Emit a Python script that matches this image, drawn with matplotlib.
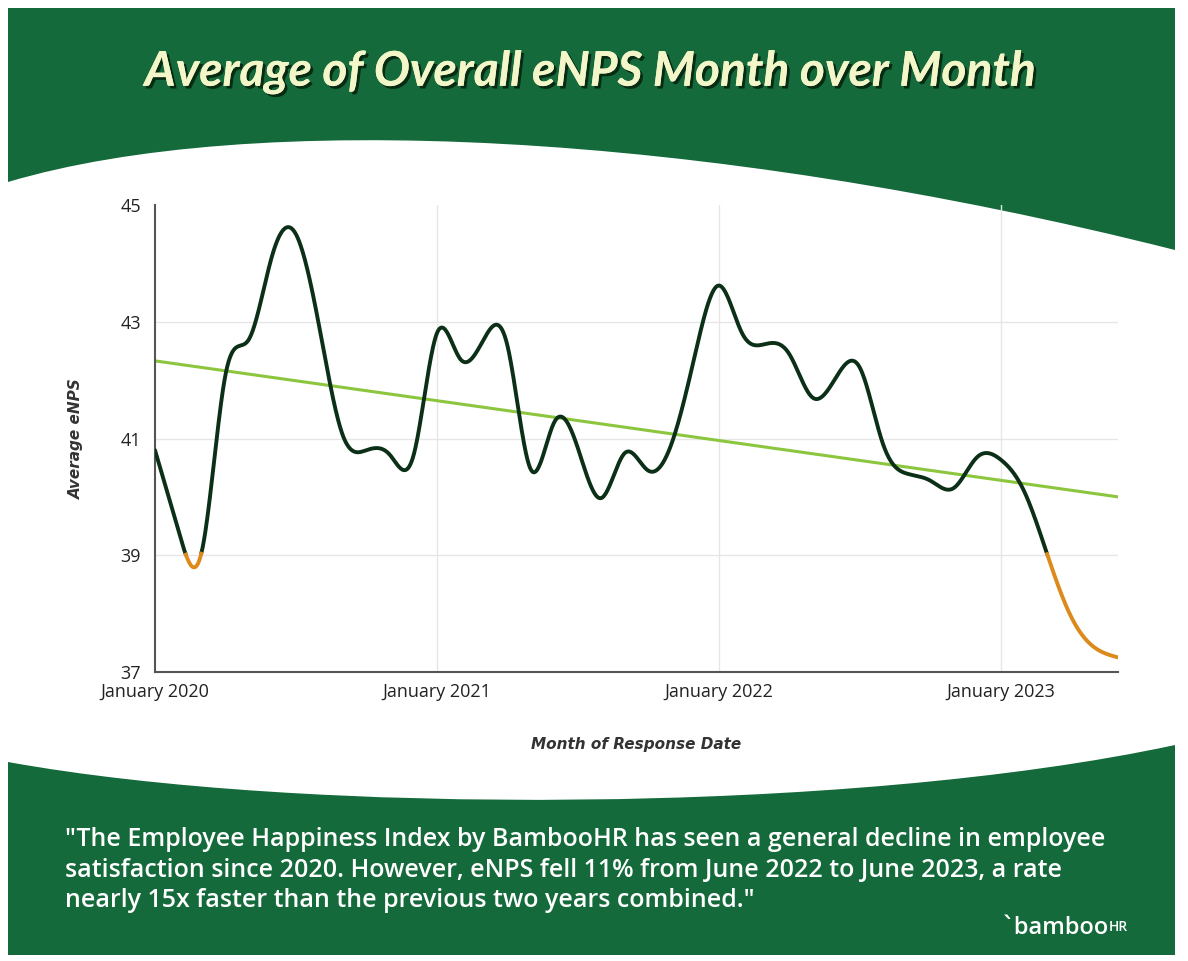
import numpy as np
import matplotlib
matplotlib.use("Agg")
import matplotlib.pyplot as plt
from matplotlib.path import Path
from matplotlib.patches import PathPatch
import matplotlib.patheffects as pe

# monthly average eNPS, Jan 2020 .. Jun 2023
months = np.arange(42)
enps = [40.8, 39.42, 39.08, 42.09, 42.7, 44.15, 44.5, 42.9, 41.05, 40.8,
        40.72, 40.7, 42.8, 42.36, 42.7, 42.6, 40.47, 41.28, 40.84, 39.98,
        40.75, 40.45, 40.92, 42.45, 43.62, 42.8, 42.62, 42.45, 41.7, 42.05,
        42.22, 40.9, 40.4, 40.28, 40.15, 40.68, 40.64, 40.1, 39.0, 37.95,
        37.42, 37.25]
trend_ends = [42.33, 40.0]
threshold = 39
x_ticks = [0, 12, 24, 36]
x_labels = ['January 2020', 'January 2021', 'January 2022', 'January 2023']
y_ticks = [37, 39, 41, 43, 45]

GREEN = '#146a3a'
DARK = '#0b2f17'
ORANGE = '#dd8a1c'
LIME = '#8cc63f'


def natural_spline(x, y, xs):
    x = np.asarray(x, float)
    y = np.asarray(y, float)
    n = len(x)
    h = np.diff(x)
    A = np.zeros((n, n))
    r = np.zeros(n)
    A[0, 0] = A[-1, -1] = 1
    for i in range(1, n - 1):
        A[i, i - 1] = h[i - 1]
        A[i, i] = 2 * (h[i - 1] + h[i])
        A[i, i + 1] = h[i]
        r[i] = 3 * ((y[i + 1] - y[i]) / h[i] - (y[i] - y[i - 1]) / h[i - 1])
    c = np.linalg.solve(A, r)
    b = (y[1:] - y[:-1]) / h - h * (2 * c[:-1] + c[1:]) / 3
    d = (c[1:] - c[:-1]) / (3 * h)
    idx = np.clip(np.searchsorted(x, xs) - 1, 0, n - 2)
    dx = xs - x[idx]
    return y[idx] + b[idx] * dx + c[idx] * dx ** 2 + d[idx] * dx ** 3


fig = plt.figure(figsize=(11.88, 9.61), dpi=100)

# background: green bands with white wave in the middle
bg = fig.add_axes([0, 0, 1, 1], zorder=0)
bg.set_xlim(0, 1188)
bg.set_ylim(961, 0)
bg.axis('off')

top = Path([(8, 8), (1175, 8), (1175, 250), (700, 130), (250, 110), (8, 182), (8, 8)],
           [Path.MOVETO, Path.LINETO, Path.LINETO, Path.CURVE4, Path.CURVE4, Path.CURVE4,
            Path.CLOSEPOLY])
bottom = Path([(8, 762), (300, 815), (850, 815), (1175, 745), (1175, 955), (8, 955), (8, 762)],
              [Path.MOVETO, Path.CURVE4, Path.CURVE4, Path.CURVE4, Path.LINETO, Path.LINETO,
               Path.CLOSEPOLY])
bg.add_patch(PathPatch(top, facecolor=GREEN, edgecolor='none'))
bg.add_patch(PathPatch(bottom, facecolor=GREEN, edgecolor='none'))

bg.text(590, 72, 'Average of Overall eNPS Month over Month', ha='center', va='center',
        fontsize=34.5, fontweight='bold', fontstyle='italic', color='#f3f6c8',
        family=['Liberation Sans Narrow', 'Lato', 'DejaVu Sans'],
        path_effects=[pe.withSimplePatchShadow(offset=(2, -2), shadow_rgbFace='#06250f', alpha=0.9),
                      pe.Normal()])

quote = ('"The Employee Happiness Index by BambooHR has seen a general decline in employee\n'
         'satisfaction since 2020. However, eNPS fell 11% from June 2022 to June 2023, a rate\n'
         'nearly 15x faster than the previous two years combined."')
bg.text(65, 870, quote, ha='left', va='center', fontsize=18, fontweight='semibold',
        color='white', family=['Open Sans', 'DejaVu Sans'], linespacing=1.3)

logo = bg.text(1003, 928, 'ˋbamboo', ha='left', va='center', fontsize=17, fontweight='semibold',
               color='white', family=['Open Sans', 'DejaVu Sans'])
bg.annotate('HR', xy=(1, 0.25), xycoords=logo, ha='left', va='bottom', fontsize=10,
            fontweight='semibold', color='white', family=['Open Sans', 'DejaVu Sans'])

# chart
ax = fig.add_axes([155 / 1188, 1 - 672 / 961, (1118 - 155) / 1188, (672 - 205) / 961], zorder=1)
ax.patch.set_alpha(0)

xs = np.linspace(months[0], months[-1], 2000)
ys = natural_spline(months, enps, xs)
low = ys < threshold
low_wide = low | np.roll(low, 1) | np.roll(low, -1)
ax.plot(xs, np.ma.masked_where(low, ys), color=DARK, lw=2.8, solid_capstyle='round', zorder=3)
ax.plot(xs, np.ma.masked_where(~low_wide, ys), color=ORANGE, lw=2.8, zorder=3)

ax.plot([months[0], months[-1]], trend_ends, color=LIME, lw=2.2, zorder=2)

for v in y_ticks[1:-1]:
    ax.axhline(v, color='#e6e6e6', lw=1, zorder=1)
for v in x_ticks[1:]:
    ax.axvline(v, color='#e6e6e6', lw=1, zorder=1)

ax.set_xlim(months[0], months[-1])
ax.set_ylim(37, 45)
ax.set_xticks(x_ticks)
ax.set_xticklabels(x_labels)
ax.set_yticks(y_ticks)
for s in ['top', 'right']:
    ax.spines[s].set_visible(False)
for s in ['left', 'bottom']:
    ax.spines[s].set_color('#555555')
    ax.spines[s].set_linewidth(1.5)
ax.tick_params(length=0, labelsize=13, labelcolor='#222222')
ax.tick_params(axis='x', pad=8)
ax.tick_params(axis='y', pad=10)
for lab in ax.get_xticklabels() + ax.get_yticklabels():
    lab.set_family(['Open Sans', 'DejaVu Sans'])

ax.set_ylabel('Average eNPS', fontsize=11, fontweight='bold', fontstyle='italic',
              color='#333333', labelpad=26)
ax.set_xlabel('Month of Response Date', fontsize=11, fontweight='bold', fontstyle='italic',
              color='#333333', labelpad=26)

fig.savefig('out.png', dpi=100)
